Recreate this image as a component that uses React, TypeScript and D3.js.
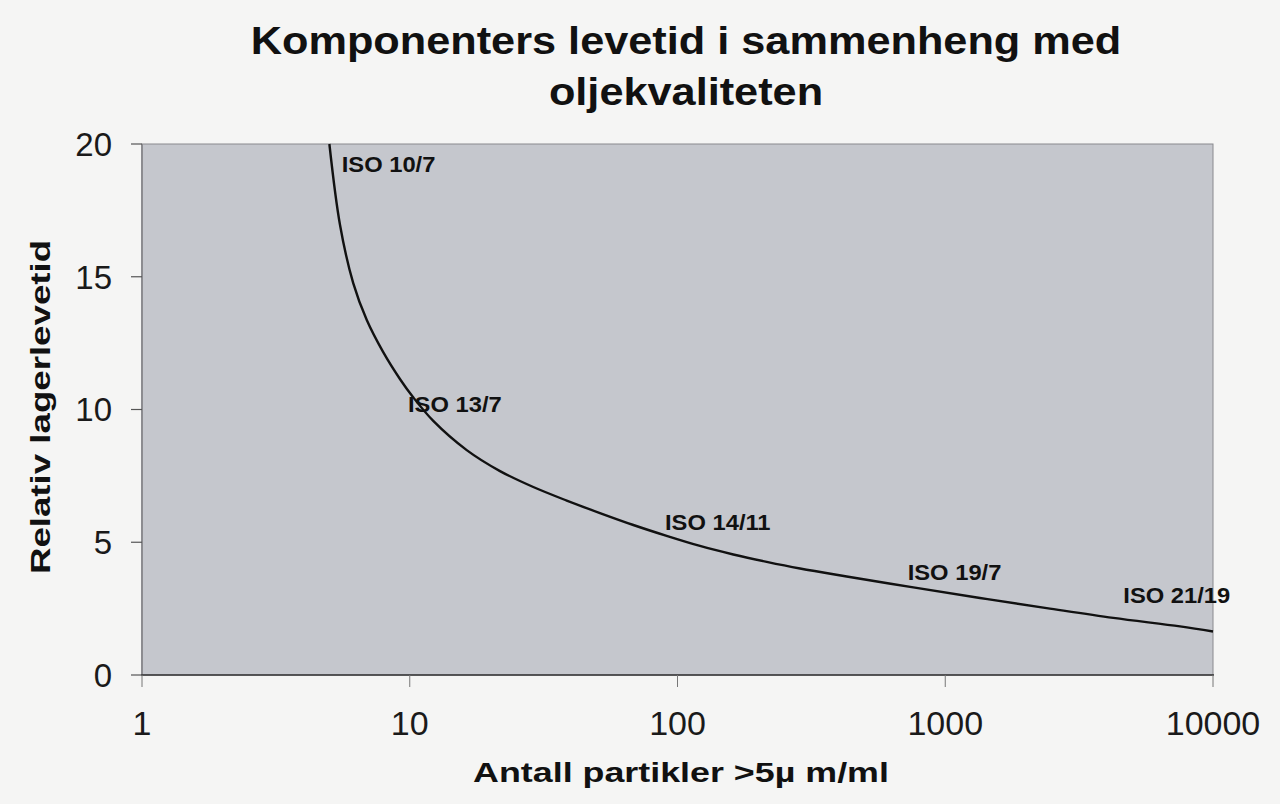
import React from "react";
import * as d3 from "d3";

const particles = [5.01, 5.49, 6.15, 6.91, 7.95, 9.19, 10.28, 12.24, 16.32, 21.73, 28.93, 38.57, 51.33, 68.4, 91.1, 121.3, 161.6, 215.4, 286.8, 428.5, 760, 1348, 2392, 4243, 7531, 10000];
const lifetime = [20, 16.95, 14.76, 13.37, 12.17, 11.15, 10.47, 9.57, 8.47, 7.68, 7.08, 6.57, 6.1, 5.65, 5.24, 4.86, 4.54, 4.26, 4.01, 3.71, 3.3, 2.9, 2.52, 2.15, 1.83, 1.64];

const isoLabels = ["ISO 10/7", "ISO 13/7", "ISO 14/11", "ISO 19/7", "ISO 21/19"];
const isoX = [5.57, 9.85, 89.8, 724, 4624];
const isoY = [18.96, 9.92, 5.46, 3.58, 2.7];

const xTicks = [1, 10, 100, 1000, 10000];
const yTicks = [0, 5, 10, 15, 20];

const titleLines = ["Komponenters levetid i sammenheng med", "oljekvaliteten"];
const xTitle = "Antall partikler >5\u00b5 m/ml";
const yTitle = "Relativ lagerlevetid";

export default function App() {
  const W = 1280, H = 804;
  const left = 142, right = 1213, top = 144, bottom = 675;
  const x = d3.scaleLog().domain([1, 10000]).range([left, right]);
  const y = d3.scaleLinear().domain([0, 20]).range([bottom, top]);
  const pts = particles.map((p, i) => [p, lifetime[i]] as [number, number]);
  const line = d3.line<[number, number]>().x(d => x(d[0])).y(d => y(d[1])).curve(d3.curveCatmullRom.alpha(0.5));
  const font = "'Liberation Sans', Arial, sans-serif";

  return (
    <svg width={W} height={H} style={{ position: "absolute", left: 0, top: 0, background: "#f5f5f4" }} fontFamily={font}>
      <rect x={0} y={0} width={W} height={H} fill="#f5f5f4" />
      {titleLines.map((t, i) => (
        <text key={t} transform={`translate(686,${54 + i * 51}) scale(1.11,1)`} textAnchor="middle" fontSize={39} fontWeight="bold" fill="#111">{t}</text>
      ))}
      <rect x={left} y={top} width={right - left} height={bottom - top} fill="#c5c7cd" stroke="#8a8a8e" strokeWidth={1} />
      <line x1={left} x2={left} y1={top} y2={bottom} stroke="#8c8c90" strokeWidth={2} />
      <line x1={left - 1} x2={right + 1} y1={bottom} y2={bottom} stroke="#333" strokeWidth={1.5} />
      {yTicks.map(t => (
        <g key={"y" + t}>
          <line x1={left - 11} x2={left} y1={y(t)} y2={y(t)} stroke="#555" strokeWidth={1.2} />
          <text x={112} y={y(t)} dy="0.36em" textAnchor="end" fontSize={33} fill="#1a1a1a">{t}</text>
        </g>
      ))}
      {xTicks.map(t => (
        <g key={"x" + t}>
          <line x1={x(t)} x2={x(t)} y1={bottom} y2={bottom + 12} stroke="#777" strokeWidth={1} />
          <text x={x(t)} y={735} textAnchor="middle" fontSize={34} fill="#1a1a1a">{t}</text>
        </g>
      ))}
      <path d={line(pts) || ""} fill="none" stroke="#111" strokeWidth={2.4} />
      {isoLabels.map((l, i) => (
        <text key={l} transform={`translate(${x(isoX[i])},${y(isoY[i])}) scale(1.08,1)`} fontSize={22} fontWeight="bold" fill="#111">{l}</text>
      ))}
      <text transform={`translate(681,782) scale(1.28,1)`} textAnchor="middle" fontSize={28} fontWeight="bold" fill="#111">{xTitle}</text>
      <text transform={`translate(50,407) rotate(-90) scale(1.31,1)`} textAnchor="middle" fontSize={28} fontWeight="bold" fill="#111">{yTitle}</text>
    </svg>
  );
}
